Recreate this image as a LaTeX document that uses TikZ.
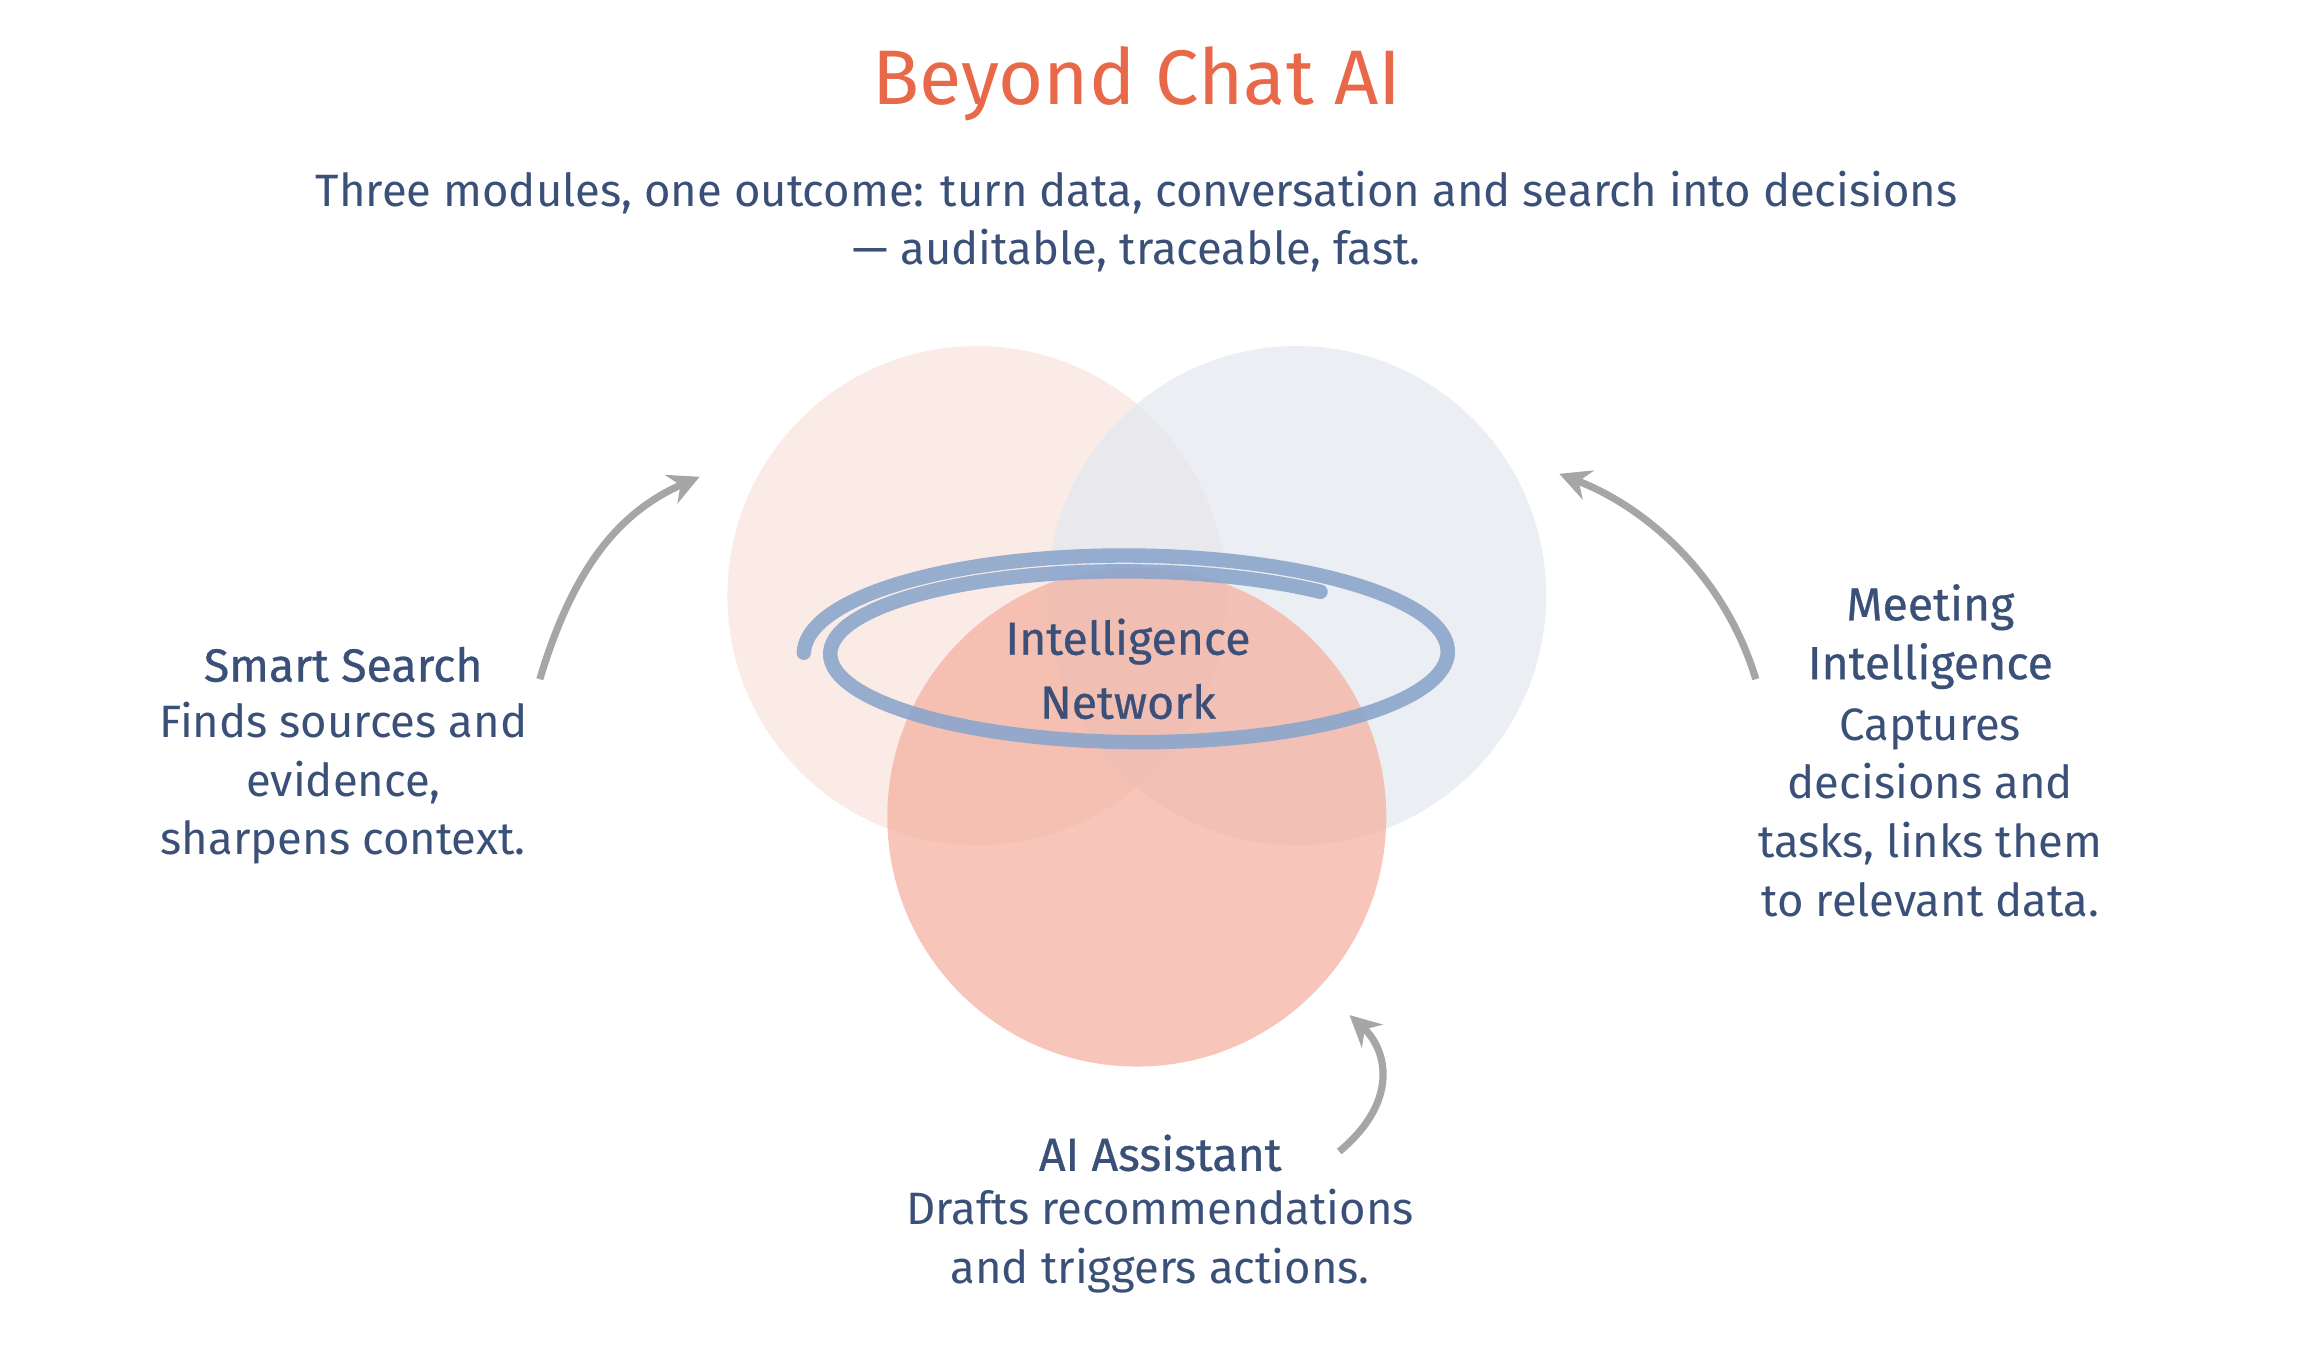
\documentclass[tikz,border=0pt]{standalone}
\usepackage{fontspec}
\setmainfont{Fira Sans}
\usetikzlibrary{arrows.meta}
\definecolor{titleorange}{HTML}{E8694A}
\definecolor{inkblue}{HTML}{3A5078}
\definecolor{swirlblue}{HTML}{8BA6CC}
\definecolor{pinklight}{HTML}{FBE9E4}
\definecolor{greylight}{HTML}{E6EAF0}
\definecolor{salmon}{HTML}{F4B1A1}
\tikzset{
  label/.style={text=inkblue, font=\fontsize{8.8}{11.4}\selectfont, align=center},
  head/.style={label, font=\fontsize{9}{11.4}\selectfont\addfontfeature{FakeBold=0.6}},
  pointer/.style={draw=gray!70, line width=1.4pt, -{Stealth[length=6pt,width=6pt]}}
}
\begin{document}
\begin{tikzpicture}[x=0.01cm, y=-0.01cm]
        \useasboundingbox (0,0) rectangle (1568,920);

        % Title and subtitle
        \node[text=titleorange, font=\fontsize{15}{18}\selectfont] (title) at (775,57) {Beyond Chat AI};
        \node[label] (sub) at (775,151)
        {Three modules, one outcome: turn data, conversation and search into decisions\\— auditable, traceable, fast.};

        % The three circles
        \fill[pinklight, opacity=0.9] (666,406) circle[radius=1.7cm];
        \fill[greylight, opacity=0.8] (884,406) circle[radius=1.7cm];
        \fill[salmon, opacity=0.75] (775,557) circle[radius=1.7cm];

        % Swirl round the centre
        \draw[swirlblue, line width=2.8pt, line cap=round, opacity=0.9]
        plot[domain=180:-310, samples=200, smooth]
        ({772+(224-0.05*(180-\x))*cos(\x)}, {445-(69-0.03*(180-\x))*sin(\x)});

        \node[head] (net) at (769,456) {Intelligence\\[1pt]Network};

        % Module texts
        \node[head] (search) at (234,453) {Smart Search};
        \node[label] (searchtxt) at (234,534)
        {Finds sources and\\evidence,\\sharpens context.};
        \node[head] (meeting) at (1316,434) {Meeting\\Intelligence};
        \node[label] (meetingtxt) at (1316,554)
        {Captures\\decisions and\\tasks, links them\\to relevant data.};
        \node[head] (assist) at (791,786) {AI Assistant};
        \node[label] (assisttxt) at (791,846)
        {Drafts recommendations\\and triggers actions.};

        % Arrows into the circles
        \coordinate (s0) at (368,463);
        \coordinate (s1) at (477,325);
        \coordinate (m0) at (1197,463);
        \coordinate (m1) at (1063,323);
        \coordinate (a0) at (913,785);
        \coordinate (a1) at (920,692);
        \draw[pointer] (s0) .. controls (390,390) and (420,350) .. (s1);
        \draw[pointer] (m0) .. controls (1175,390) and (1120,345) .. (m1);
        \draw[pointer] (a0) .. controls (955,750) and (945,715) .. (a1);

      \end{tikzpicture}
\end{document}
